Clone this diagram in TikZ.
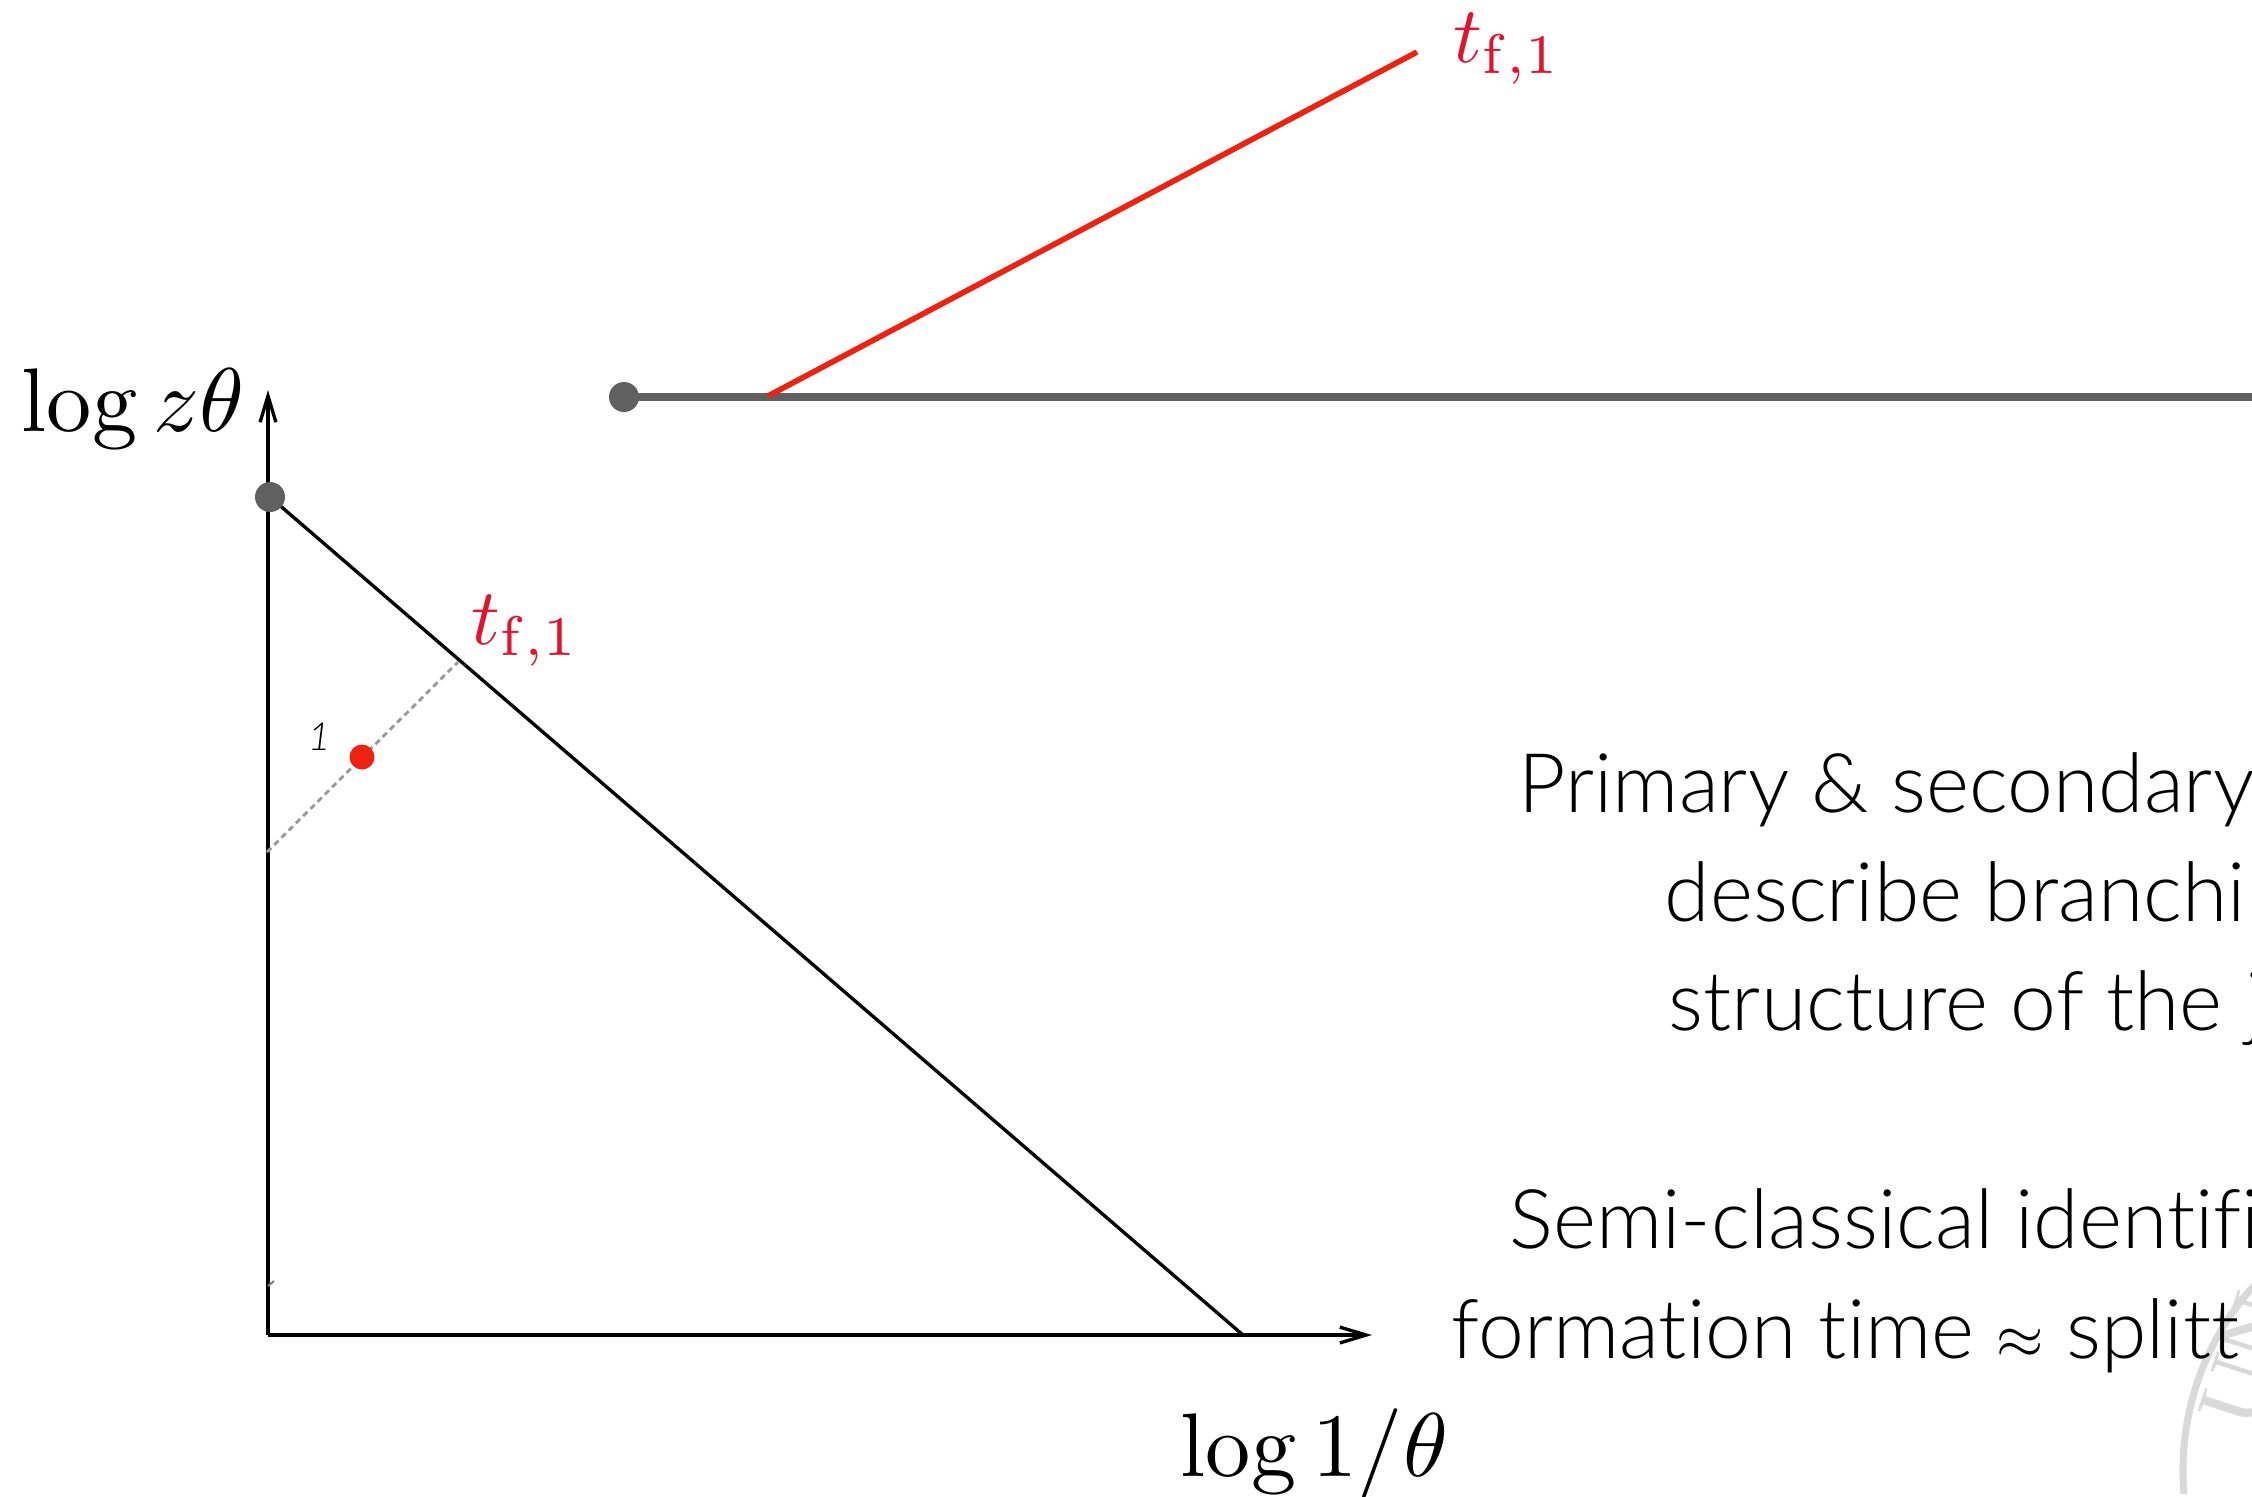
\documentclass[tikz,border=0pt]{standalone}
\usepackage[no-math]{fontspec}
\setmainfont[Ligatures=NoCommon]{Lato Light}
\newfontfamily\sealfont{Liberation Serif}
\usepackage{xcolor}
\usetikzlibrary{arrows.meta, calc}
\definecolor{jetred}{HTML}{EE2211}
\definecolor{labelred}{HTML}{E2142D}
\definecolor{jetgray}{HTML}{606060}
\tikzset{
  planeline/.style={black,line width=0.95pt},
  spliceline/.style={gray!80,line width=0.8pt,dash pattern=on 1.7pt off 1.2pt},
  bodytext/.style={anchor=base west,inner sep=0pt,font=\fontsize{23.4}{24}\selectfont},
  axislabel/.style={anchor=base west,inner sep=0pt,scale=2.57,transform shape},
  redlabel/.style={anchor=base west,inner sep=0pt,text=labelred,scale=2.27,transform shape}
}
\begin{document}
\begin{tikzpicture}[x=0.01cm,y=-0.01cm,>={Straight Barb[length=7.5pt,width=4.5pt]}]
\useasboundingbox (0,0) rectangle (2252,1496);
\coordinate (origin) at (268,1335);
\coordinate (ytop) at (268,390);
\coordinate (xtip) at (1372,1335);
\coordinate (rootz) at (270,497);
\coordinate (rootx) at (1243,1335);
\coordinate (dashlow) at (267,852);
\coordinate (dashhigh) at (458,662);
% seal
\draw[gray!30,line width=2pt] (2184,1494) arc[start angle=175,end angle=225,radius=275];
\node[gray!30,rotate=72,inner sep=0pt,font=\sealfont\fontsize{26}{26}\selectfont] (sealtext) at (2247,1360) {UN};
% jet
\draw[jetgray,line width=2.3pt] (624,397)--(2252,397);
\draw[jetred,line width=1.6pt] (768,396)--(1417,52);
\fill[jetgray] (624,397) circle (15);
% plane
\draw[planeline,->] (origin)--(ytop);
\draw[planeline,->] (origin)--(xtip);
\draw[planeline] (rootz)--(rootx);
\draw[spliceline] (dashlow)--(dashhigh);
\draw[gray,line width=0.6pt] (268,1286)--(274,1281);
\fill[jetgray] (rootz) circle (15);
\fill[jetred] (362,757) circle (12.5);
\node[inner sep=0pt,font=\itshape\fontsize{11}{11}\selectfont] (emission) at (320,737) {1};
% labels
\node[redlabel] (tfjet) at (1452,62) {$t_{\mathrm{f},1}$};
\node[redlabel] (tfplane) at (470,644) {$t_{\mathrm{f},1}$};
\node[axislabel] (ylabel) at (20,431) {$\log z\theta$};
\node[axislabel] (xlabel) at (1179,1476) {$\log 1/\theta$};
% text
\node[bodytext] (lineone) at (1518,812) {Primary \& secondary};
\node[bodytext] (linetwo) at (1664,921) {describe branchi};
\node[bodytext] (linethree) at (1668,1030) {structure of the j};
\node[bodytext] (linefour) at (1509,1248) {Semi-classical identifi};
\node[bodytext] (linefive) at (1451,1358) {formation time {\fontsize{17}{17}\selectfont$\approx$} splitt};
\end{tikzpicture}
\end{document}
